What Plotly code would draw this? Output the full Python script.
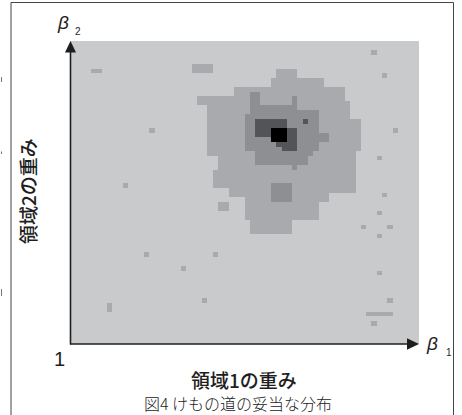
import plotly.graph_objects as go

# ---------------- data ----------------
N_BETA1 = 66   # grid steps along beta1 (columns)
N_BETA2 = 66   # grid steps along beta2 (rows, counted from the top)

# grey level of each plausibility class (0 = background ... 4 = most plausible)
LEVEL_COLORS = ["#c9cacc", "#a9aaad", "#8e8f92", "#535456", "#000000"]

# regions: (level, first_row, last_row, first_col, last_col)
OUTER_REGION = [
    (1, 6, 7, 39, 42), (1, 8, 9, 38, 47), (1, 10, 11, 31, 51), (1, 12, 12, 24, 51),
    (1, 13, 13, 24, 52), (1, 14, 16, 26, 52), (1, 17, 23, 26, 54), (1, 24, 24, 26, 53),
    (1, 25, 27, 28, 53), (1, 28, 31, 27, 53), (1, 32, 32, 30, 53), (1, 33, 33, 30, 48),
    (1, 34, 34, 33, 48), (1, 35, 38, 33, 46), (1, 39, 41, 34, 41),
]
SCATTERED_CELLS = [
    (1, 6, 6, 4, 5), (1, 5, 6, 23, 26), (1, 19, 19, 15, 15), (1, 31, 31, 10, 10),
    (1, 35, 36, 28, 29), (1, 46, 46, 14, 14), (1, 46, 46, 27, 27), (1, 49, 49, 21, 21),
    (1, 56, 56, 25, 25), (1, 57, 58, 7, 7), (1, 2, 2, 57, 57), (1, 7, 7, 59, 59),
    (1, 19, 19, 61, 61), (1, 25, 25, 58, 58), (1, 33, 33, 59, 59), (1, 37, 37, 58, 58),
    (1, 40, 40, 55, 55), (1, 40, 40, 60, 60), (1, 42, 42, 58, 58), (1, 50, 50, 58, 58),
    (1, 56, 56, 60, 60), (1, 59, 59, 56, 60), (1, 61, 61, 57, 57),
]
MIDDLE_REGION = [
    (2, 11, 13, 34, 35), (2, 12, 13, 42, 42), (2, 14, 14, 34, 42), (2, 15, 15, 34, 46),
    (2, 16, 23, 33, 46), (2, 20, 21, 47, 48), (2, 24, 24, 35, 45), (2, 25, 26, 35, 44),
    (2, 27, 27, 42, 42), (2, 31, 34, 38, 41),
]
INNER_REGION = [
    (3, 17, 20, 35, 40), (3, 19, 23, 41, 42), (3, 22, 22, 39, 40), (3, 23, 23, 40, 40),
    (3, 17, 17, 44, 44),
]
PEAK_REGION = [(4, 19, 21, 38, 40)]

X_LABEL = "領域1の重み"
Y_LABEL = "領域2の重み"
CAPTION = "図4 けもの道の妥当な分布"
ORIGIN_LABEL = "1"
X_AXIS_SYMBOL, X_AXIS_SUB = "β", "1"
Y_AXIS_SYMBOL, Y_AXIS_SUB = "β", "2"

# ---------------- build grid ----------------
z = [[0] * N_BETA1 for _ in range(N_BETA2)]
for region in (OUTER_REGION, SCATTERED_CELLS, MIDDLE_REGION, INNER_REGION, PEAK_REGION):
    for lvl, r0, r1, c0, c1 in region:
        for r in range(r0, r1 + 1):
            for c in range(c0, c1 + 1):
                z[r][c] = lvl

nl = len(LEVEL_COLORS) - 1
colorscale = [[i / nl, col] for i, col in enumerate(LEVEL_COLORS)]

W, H = 462, 415
L, R, T, B = 70, 419, 41, 344


def px(x):
    return (x - L) / (R - L)


def py(y):
    return (B - y) / (B - T)


fig = go.Figure(go.Heatmap(
    z=z, x=list(range(N_BETA1)), y=list(range(N_BETA2)),
    colorscale=colorscale, zmin=0, zmax=nl, showscale=False, hoverinfo="skip",
))

axis_col = "#1e1e1e"
shapes = [
    # frame of the figure
    dict(type="line", xref="paper", yref="paper", x0=px(11), x1=px(11), y0=py(2.5), y1=py(416),
         line=dict(color="#444", width=1)),
    dict(type="line", xref="paper", yref="paper", x0=px(11), x1=px(453.5), y0=py(2.5), y1=py(2.5),
         line=dict(color="#444", width=1)),
    dict(type="line", xref="paper", yref="paper", x0=px(453.5), x1=px(453.5), y0=py(2.5), y1=py(416),
         line=dict(color="#444", width=1)),
    # axes
    dict(type="line", xref="paper", yref="paper", x0=px(70.5), x1=px(70.5), y0=py(344.5), y1=py(50),
         line=dict(color=axis_col, width=1.6)),
    dict(type="line", xref="paper", yref="paper", x0=px(70), x1=px(410), y0=py(344), y1=py(344),
         line=dict(color=axis_col, width=1.6)),
    dict(type="path", xref="paper", yref="paper",
         path=f"M {px(70.5)} {py(41)} L {px(65)} {py(52.5)} L {px(76)} {py(52.5)} Z",
         fillcolor=axis_col, line=dict(width=0)),
    dict(type="path", xref="paper", yref="paper",
         path=f"M {px(419)} {py(344)} L {px(407)} {py(338.3)} L {px(407)} {py(349.7)} Z",
         fillcolor=axis_col, line=dict(width=0)),
]
# tiny fragments at the left page edge
for y0, y1 in [(77, 82), (151.5, 154), (289, 296)]:
    shapes.append(dict(type="line", xref="paper", yref="paper", x0=px(1.5), x1=px(1.5),
                       y0=py(y0), y1=py(y1), line=dict(color="#777", width=1)))

sans = "Liberation Sans, Arial, sans-serif"
cjk = "Noto Sans CJK JP, sans-serif"


def ann(text, x, y, size, family, color="#1e1e1e", angle=0, weight="normal"):
    return dict(text=text, x=px(x), y=py(y), xref="paper", yref="paper", showarrow=False,
                xanchor="center", yanchor="middle", textangle=angle, borderpad=0,
                font=dict(size=size, family=family, color=color, weight=weight))


annotations = [
    ann(f"<i>{Y_AXIS_SYMBOL}</i>", 63, 23, 19, sans),
    ann(Y_AXIS_SUB, 77.5, 31.5, 10, sans),
    ann(f"<i>{X_AXIS_SYMBOL}</i>", 432, 343.5, 19, sans),
    ann(X_AXIS_SUB, 448.5, 352.5, 10, sans),
    ann(ORIGIN_LABEL, 59, 359, 20, sans),
    ann(X_LABEL, 243.5, 379.5, 19, cjk, weight=500),
    ann(Y_LABEL, 27.5, 191.5, 19, cjk, angle=-90, weight=500),
    ann(CAPTION, 237.5, 403.5, 16, cjk, color="#222", weight=300),
]

fig.update_layout(
    width=W, height=H,
    margin=dict(l=L, r=W - R, t=T, b=H - B, pad=0),
    paper_bgcolor="white", plot_bgcolor="white",
    xaxis=dict(range=[-0.5, N_BETA1 - 0.5], visible=False, fixedrange=True),
    yaxis=dict(range=[N_BETA2 - 0.5, -0.5], visible=False, fixedrange=True),
    shapes=shapes, annotations=annotations, showlegend=False,
)

fig.write_html("out.html", config={"displayModeBar": False},
               post_script="document.body.style.margin='0';document.body.style.overflow='hidden';")
